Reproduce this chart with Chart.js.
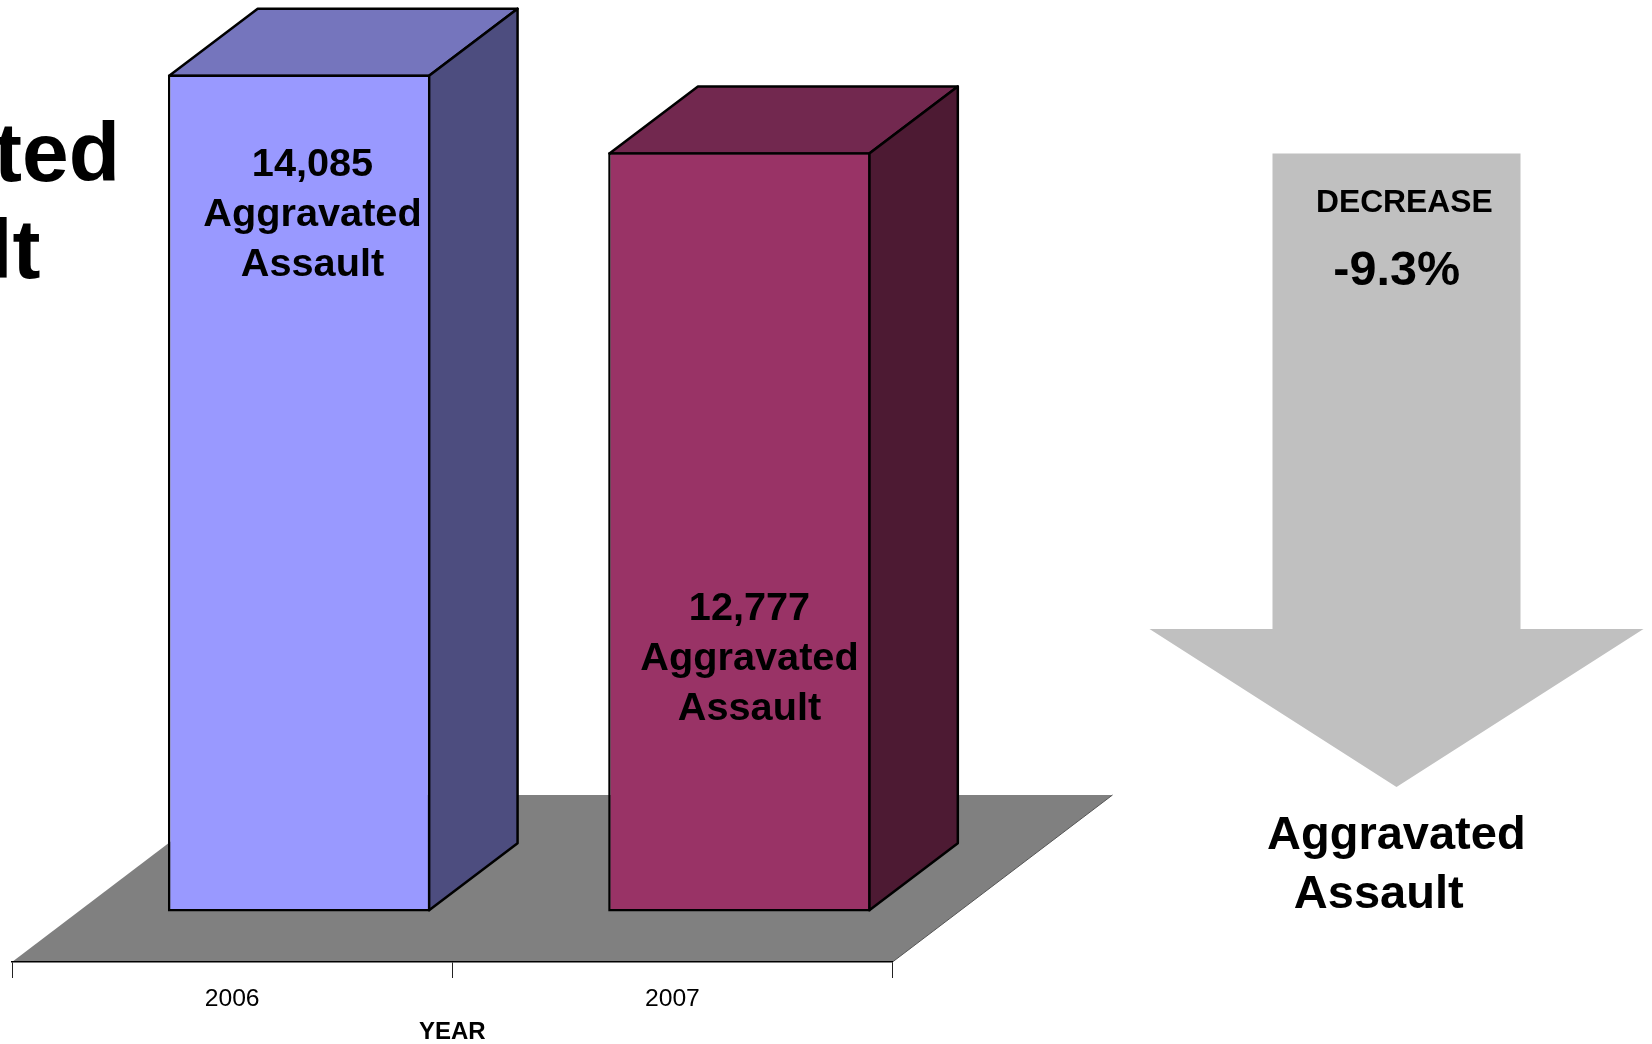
<!DOCTYPE html>
<html>
<head>
<meta charset="utf-8">
<style>html,body{margin:0;padding:0;background:#fff;overflow:hidden}canvas{display:block}</style>
<script src="https://cdn.jsdelivr.net/npm/chart.js@4"></script>
</head>
<body>
<canvas id="c" width="1652" height="1044"></canvas>
<script>
const categories = ['2006', '2007'];
const values = [14085, 12777];
const axisMax = 16170;
const xTitle = 'YEAR';
const crimeLines = ['Aggravated', 'Assault'];
const changeHeading = 'DECREASE';
const changeText = '-9.3%';

const frontColors = ['#9999FF', '#993366'];
const topColors = ['#7575BD', '#72284F'];
const sideColors = ['#4D4D7F', '#4D1A33'];
const FONT = '"Liberation Sans", Arial, sans-serif';
const EDGE = 2.5;

const floorDepth = { dx: 220, dy: 167 };
const barOffset = { dx: 67, dy: 50.5 };
const barDepth = { dx: 88.5, dy: 67 };
const barLabelPos = [{ x: 312.5, y: [175.5, 226, 275.5] }, { x: 749.5, y: [619.5, 669.5, 719.5] }];

function poly(ctx, pts, fill, stroke, lw) {
  ctx.beginPath();
  pts.forEach((p, i) => i ? ctx.lineTo(p[0], p[1]) : ctx.moveTo(p[0], p[1]));
  ctx.closePath();
  if (fill) { ctx.fillStyle = fill; ctx.fill(); }
  if (stroke) { ctx.strokeStyle = stroke; ctx.lineWidth = lw; ctx.lineJoin = 'round'; ctx.stroke(); }
}
function text(ctx, s, x, y, font, align) {
  ctx.font = font; ctx.fillStyle = '#000'; ctx.textAlign = align || 'center'; ctx.textBaseline = 'alphabetic';
  ctx.fillText(s, x, y);
}

const scene = {
  id: 'scene',
  beforeDraw(chart) {
    const { ctx, scales: { x, y } } = chart;
    const b = y.bottom, l = x.left, r = x.right;
    ctx.save();
    poly(ctx, [[l, b], [r, b], [r + floorDepth.dx, b - floorDepth.dy], [l + floorDepth.dx, b - floorDepth.dy]], '#808080');
    ctx.beginPath(); ctx.moveTo(r, b); ctx.lineTo(r + floorDepth.dx, b - floorDepth.dy);
    ctx.strokeStyle = '#555'; ctx.lineWidth = 1; ctx.stroke();
    ctx.restore();
  },
  beforeDatasetsDraw(chart) {
    const ctx = chart.ctx;
    ctx.save();
    ctx.translate(barOffset.dx, -barOffset.dy);
    const h = EDGE / 2;
    chart.getDatasetMeta(0).data.forEach((bar, i) => {
      const L = bar.x - bar.width / 2 + h, R = bar.x + bar.width / 2 - h, T = bar.y + h, B = bar.base - h;
      const dx = barDepth.dx, dy = barDepth.dy;
      poly(ctx, [[L, T], [R, T], [R + dx, T - dy], [L + dx, T - dy]], topColors[i], '#000', EDGE);
      poly(ctx, [[R, T], [R + dx, T - dy], [R + dx, B - dy], [R, B]], sideColors[i], '#000', EDGE);
    });
  },
  afterDatasetsDraw(chart) {
    const ctx = chart.ctx;
    ctx.restore();
    ctx.save();
    const f = 'bold 39.7px ' + FONT;
    values.forEach((v, i) => {
      const p = barLabelPos[i];
      [v.toLocaleString('en-US'), crimeLines[0], crimeLines[1]].forEach((s, k) => text(ctx, s, p.x, p.y[k], f));
    });
    // arrow
    poly(ctx, [[1272.5, 153.5], [1520.5, 153.5], [1520.5, 629], [1643.5, 629], [1396.5, 787], [1149.5, 629], [1272.5, 629]], '#C0C0C0');
    text(ctx, changeHeading, 1404.3, 212, 'bold 31.8px ' + FONT);
    text(ctx, changeText, 1396.7, 284.5, 'bold 48.5px ' + FONT);
    text(ctx, crimeLines[0], 1396.3, 849, 'bold 47px ' + FONT);
    text(ctx, crimeLines[1], 1378.7, 908, 'bold 47px ' + FONT);
    // slide heading running off the left edge
    text(ctx, crimeLines[0], 120, 181, 'bold 84px ' + FONT, 'right');
    text(ctx, crimeLines[1], 40.5, 278, 'bold 84px ' + FONT, 'right');
    ctx.restore();
  }
};

new Chart(document.getElementById('c'), {
  type: 'bar',
  data: {
    labels: categories,
    datasets: [{
      data: values,
      backgroundColor: frontColors,
      borderColor: '#000',
      borderWidth: EDGE,
      borderSkipped: false,
      categoryPercentage: 1,
      barPercentage: 0.596,
      clip: false
    }]
  },
  plugins: [scene],
  options: {
    responsive: false,
    animation: false,
    layout: { padding: { left: 12, right: 759.5, top: 1, bottom: 0 } },
    plugins: { legend: { display: false }, tooltip: { enabled: false }, title: { display: false } },
    scales: {
      y: { display: false, min: 0, max: axisMax },
      x: {
        afterFit(s) { s.height = 82; },
        grid: { drawOnChartArea: false, drawTicks: true, tickLength: 16, color: '#222', lineWidth: 1 },
        border: { display: true, color: '#000', width: 1.5 },
        ticks: { color: '#000', padding: 6, maxRotation: 0, font: { family: FONT, size: 24.7 } },
        title: { display: true, text: xTitle, color: '#000', padding: { top: 0, bottom: -3 }, font: { family: FONT, size: 24, weight: 'bold' } }
      }
    }
  }
});
</script>
</body>
</html>
